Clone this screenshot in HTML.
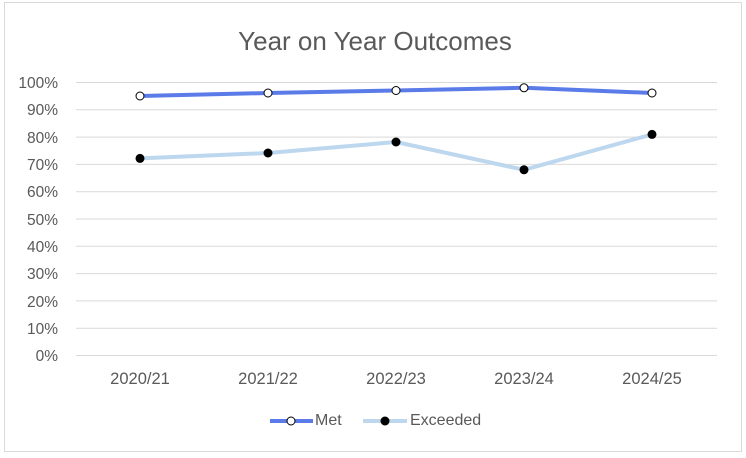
<!DOCTYPE html>
<html><head><style>body{margin:0;background:#fff}svg{display:block}</style></head><body>
<svg width="746" height="458" xmlns="http://www.w3.org/2000/svg" font-family="Liberation Sans, sans-serif">
<rect x="0" y="0" width="746" height="458" fill="#fff"/>
<rect x="4.5" y="2.5" width="737" height="449" fill="none" stroke="#d9d9d9"/>
<text x="375" y="50" text-anchor="middle" font-size="26" fill="#595959">Year on Year Outcomes</text>
<g stroke="#d9d9d9" stroke-width="1">
<line x1="76" x2="717" y1="82.5" y2="82.5"/><line x1="76" x2="717" y1="109.8" y2="109.8"/>
<line x1="76" x2="717" y1="137.1" y2="137.1"/><line x1="76" x2="717" y1="164.4" y2="164.4"/>
<line x1="76" x2="717" y1="191.7" y2="191.7"/><line x1="76" x2="717" y1="219" y2="219"/>
<line x1="76" x2="717" y1="246.3" y2="246.3"/><line x1="76" x2="717" y1="273.6" y2="273.6"/>
<line x1="76" x2="717" y1="300.9" y2="300.9"/><line x1="76" x2="717" y1="328.2" y2="328.2"/>
<line x1="76" x2="717" y1="355.5" y2="355.5"/>
</g>
<g font-size="15.5" fill="#595959" text-anchor="end">
<text x="58" y="88">100%</text><text x="58" y="115">90%</text><text x="58" y="143">80%</text>
<text x="58" y="170">70%</text><text x="58" y="197">60%</text><text x="58" y="225">50%</text>
<text x="58" y="252">40%</text><text x="58" y="279">30%</text><text x="58" y="307">20%</text>
<text x="58" y="334">10%</text><text x="58" y="361">0%</text>
</g>
<g font-size="16.5" fill="#595959" text-anchor="middle">
<text x="140" y="384">2020/21</text><text x="268" y="384">2021/22</text><text x="396" y="384">2022/23</text>
<text x="524" y="384">2023/24</text><text x="652" y="384">2024/25</text>
</g>
<polyline points="140,158.4 268,153 396,142 524,169.8 652,134.4" fill="none" stroke="#bdd7ee" stroke-width="4" stroke-linejoin="round"/>
<polyline points="140,96 268,93 396,90.5 524,87.8 652,93" fill="none" stroke="#5b7be8" stroke-width="4" stroke-linejoin="round"/>
<g fill="#000"><circle cx="140" cy="158.4" r="4.5"/><circle cx="268" cy="153" r="4.5"/><circle cx="396" cy="142" r="4.5"/><circle cx="524" cy="169.8" r="4.5"/><circle cx="652" cy="134.4" r="4.5"/></g>
<g fill="#fff" stroke="#000" stroke-width="1"><circle cx="140" cy="96" r="4"/><circle cx="268" cy="93" r="4"/><circle cx="396" cy="90.5" r="4"/><circle cx="524" cy="87.8" r="4"/><circle cx="652" cy="93" r="4"/></g>
<line x1="270" x2="313" y1="421" y2="421" stroke="#5b7be8" stroke-width="4"/>
<circle cx="291" cy="421" r="4" fill="#fff" stroke="#000"/>
<text x="315" y="425" font-size="16" fill="#595959">Met</text>
<line x1="363" x2="407" y1="421" y2="421" stroke="#bdd7ee" stroke-width="4"/>
<circle cx="385" cy="421" r="4.5" fill="#000"/>
<text x="410" y="425" font-size="16" fill="#595959">Exceeded</text>
</svg>
</body></html>
